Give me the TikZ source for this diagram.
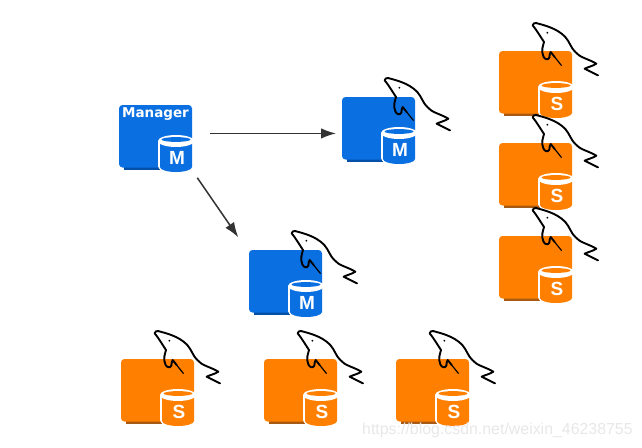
\documentclass[tikz,border=0pt]{standalone}
\usepackage{fontspec}
\setmainfont{Liberation Sans}
\newfontfamily\labelfont{DejaVu Sans}
\usetikzlibrary{arrows.meta}
\definecolor{bluebox}{HTML}{0A6FE0}
\definecolor{blueshade}{HTML}{0450A8}
\definecolor{orangebox}{HTML}{FF8000}
\definecolor{orangeshade}{HTML}{A85A14}
\definecolor{arrowgrey}{HTML}{333333}
\definecolor{markgrey}{HTML}{E8E8E8}
\tikzset{
  square/.style={rounded corners=3.5pt,minimum width=73pt,minimum height=62.5pt,inner sep=0pt,outer sep=0pt,anchor=north west},
  dolphinline/.style={line width=1.9pt,line join=round,line cap=round,black},
  finline/.style={line width=1.2pt,line cap=round,black},
  flow/.style={draw=arrowgrey,line width=1.5pt,-{Latex[length=15pt,width=10.5pt]}},
  dbletter/.style={font=\bfseries\fontsize{19}{19}\selectfont,text=white,inner sep=0pt},
  title/.style={font=\labelfont\bfseries\fontsize{13.5}{13.5}\selectfont,text=white,inner sep=0pt},
  watermark/.style={font=\fontsize{15.9}{15.9}\selectfont,text=markgrey,inner sep=0pt,anchor=base west}
}
% #1 name, #2 x, #3 y, #4 fill, #5 shade, #6 letter, #7 dolphin offset
\newcommand{\dbunit}[7]{
  \begin{scope}[shift={(#2,#3)}]
    \fill[#5] (5,60) rectangle (41,65);
    \node[square,fill=#4] (#1) at (0,0) {};
    \fill[white] (39,36) -- (39,61) arc[x radius=18,y radius=7.5,start angle=180,end angle=0] -- (75,36) -- cycle;
    \fill[#4] (41,36) -- (41,62) arc[x radius=16,y radius=5,start angle=180,end angle=0] -- (73,36) -- cycle;
    \fill[white] (57,36) ellipse[x radius=18,y radius=6];
    \fill[#4] (57,34.5) ellipse[x radius=14.5,y radius=2.4];
    \node[dbletter] (#1-letter) at (58,53) {#6};
    \ifx\relax#7\relax\else
    \begin{scope}[shift={(#7)},scale=1/3]
      \draw[dolphinline] (14,25) .. controls (15,20) and (19,17) .. (24,18)
        .. controls (45,24) and (85,32) .. (112,60)
        .. controls (125,75) and (130,95) .. (142,105)
        .. controls (155,122) and (180,125) .. (205,140)
        .. controls (195,147) and (180,150) .. (170,155)
        -- (210,175);
      \draw[dolphinline] (14,25) .. controls (25,38) and (38,60) .. (48,75)
        .. controls (46,85) and (38,100) .. (46,118)
        .. controls (50,128) and (60,130) .. (64,122)
        .. controls (66,115) and (64,108) .. (68,105)
        .. controls (72,110) and (76,115) .. (80,120);
      \draw[finline] (80,120) -- (100,145);
      \fill[black] (58,47) circle[radius=3];
    \end{scope}
    \fi
  \end{scope}
}
\begin{document}
\begin{tikzpicture}[x=1pt,y=-1pt]
  \useasboundingbox (0,0) rectangle (642,447);
  \fill[white] (0,0) rectangle (642,447);
  \dbunit{mgr}{119}{105}{bluebox}{blueshade}{M}{}
  \node[title] (mgr-title) at (155.5,114.5) {Manager};
  \dbunit{mone}{342}{97}{bluebox}{blueshade}{M}{38,-25}
  \dbunit{mtwo}{249}{250}{bluebox}{blueshade}{M}{38,-25}
  \dbunit{sa}{499}{51}{orangebox}{orangeshade}{S}{29,-34}
  \dbunit{sb}{499}{143}{orangebox}{orangeshade}{S}{29,-34}
  \dbunit{sc}{499}{236}{orangebox}{orangeshade}{S}{29,-34}
  \dbunit{sd}{121}{359}{orangebox}{orangeshade}{S}{29,-34}
  \dbunit{se}{264}{359}{orangebox}{orangeshade}{S}{29,-34}
  \dbunit{sf}{396}{359}{orangebox}{orangeshade}{S}{29,-34}
  \draw[flow] ([xshift=18pt,yshift=2.8pt]mgr.east) -- ([xshift=-6pt,yshift=-5.2pt]mone.west);
  \draw[flow] ([xshift=5.3pt,yshift=-10.3pt]mgr.south east) -- ([xshift=-10.7pt,yshift=12.7pt]mtwo.north west);
  \node[watermark] (mark) at (362,434) {https://blog.csdn.net/weixin\_46238755};
\end{tikzpicture}
\end{document}
